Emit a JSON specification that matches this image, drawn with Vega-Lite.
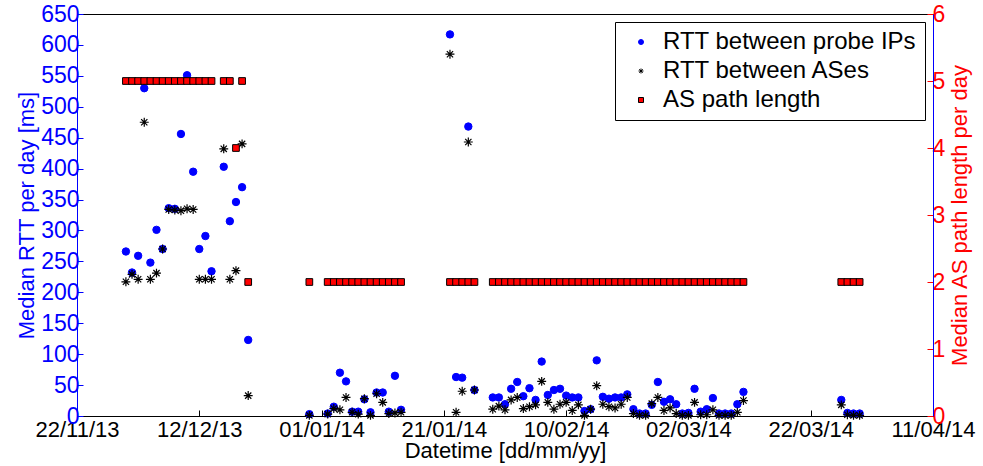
{
  "$schema": "https://vega.github.io/schema/vega-lite/v6.json",
  "width": 856,
  "height": 402,
  "autosize": {"type": "none"},
  "padding": {"left": 77, "top": 14, "right": 50, "bottom": 50},
  "background": "white",
  "config": {
    "font": "Liberation Sans",
    "view": {"stroke": "black", "strokeWidth": 1},
    "axis": {"grid": false, "titleFontWeight": "normal", "labelFontSize": 23, "titleFontSize": 21},
    "legend": {"orient": "top-right", "offset": 8, "strokeColor": "black", "fillColor": "white", "padding": 8, "labelFontSize": 24, "labelLimit": 500, "symbolSize": 25, "rowPadding": 5, "labelOffset": 10, "symbolStrokeWidth": 1, "symbolOffset": 6, "labelColor": "black"}
  },
  "datasets": {
    "rtt": [
      {"d": "2013-11-30", "ip": 266, "as": 217},
      {"d": "2013-12-01", "ip": 232, "as": 229},
      {"d": "2013-12-02", "ip": 259, "as": 221},
      {"d": "2013-12-03", "ip": 530, "as": 475},
      {"d": "2013-12-04", "ip": 248, "as": 221},
      {"d": "2013-12-05", "ip": 301, "as": 231},
      {"d": "2013-12-06", "ip": 270, "as": 270},
      {"d": "2013-12-07", "ip": 336, "as": 334},
      {"d": "2013-12-08", "ip": 335, "as": 333},
      {"d": "2013-12-09", "ip": 456, "as": 332},
      {"d": "2013-12-10", "ip": 551, "as": 335},
      {"d": "2013-12-11", "ip": 395, "as": 334},
      {"d": "2013-12-12", "ip": 270, "as": 221},
      {"d": "2013-12-13", "ip": 291, "as": 221},
      {"d": "2013-12-14", "ip": 234, "as": 221},
      {"d": "2013-12-16", "ip": 403, "as": 432},
      {"d": "2013-12-17", "ip": 315, "as": 221},
      {"d": "2013-12-18", "ip": 346, "as": 235},
      {"d": "2013-12-19", "ip": 370, "as": 440},
      {"d": "2013-12-20", "ip": 123, "as": 33},
      {"d": "2013-12-30", "ip": 3, "as": 1},
      {"d": "2014-01-02", "ip": 4, "as": 3},
      {"d": "2014-01-03", "ip": 15, "as": 12},
      {"d": "2014-01-04", "ip": 70, "as": 10},
      {"d": "2014-01-05", "ip": 56, "as": 30},
      {"d": "2014-01-06", "ip": 7, "as": 6},
      {"d": "2014-01-07", "ip": 7, "as": 3},
      {"d": "2014-01-08", "ip": 27, "as": 28},
      {"d": "2014-01-09", "ip": 6, "as": 1},
      {"d": "2014-01-10", "ip": 38, "as": 36},
      {"d": "2014-01-11", "ip": 38, "as": 22},
      {"d": "2014-01-12", "ip": 7, "as": 4},
      {"d": "2014-01-13", "ip": 65, "as": 5},
      {"d": "2014-01-14", "ip": 10, "as": 6},
      {"d": "2014-01-22", "ip": 617, "as": 585},
      {"d": "2014-01-23", "ip": 63, "as": 6},
      {"d": "2014-01-24", "ip": 62, "as": 40},
      {"d": "2014-01-25", "ip": 468, "as": 443},
      {"d": "2014-01-26", "ip": 42, "as": 42},
      {"d": "2014-01-29", "ip": 30, "as": 11},
      {"d": "2014-01-30", "ip": 30, "as": 16},
      {"d": "2014-01-31", "ip": 19, "as": 10},
      {"d": "2014-02-01", "ip": 44, "as": 26},
      {"d": "2014-02-02", "ip": 55, "as": 30},
      {"d": "2014-02-03", "ip": 32, "as": 12},
      {"d": "2014-02-04", "ip": 45, "as": 15},
      {"d": "2014-02-05", "ip": 26, "as": 18},
      {"d": "2014-02-06", "ip": 88, "as": 56},
      {"d": "2014-02-07", "ip": 34, "as": 22},
      {"d": "2014-02-08", "ip": 42, "as": 11},
      {"d": "2014-02-09", "ip": 44, "as": 19},
      {"d": "2014-02-10", "ip": 33, "as": 22},
      {"d": "2014-02-11", "ip": 30, "as": 9},
      {"d": "2014-02-12", "ip": 30, "as": 18},
      {"d": "2014-02-13", "ip": 8, "as": 1},
      {"d": "2014-02-14", "ip": 11, "as": 11},
      {"d": "2014-02-15", "ip": 90, "as": 49},
      {"d": "2014-02-16", "ip": 31, "as": 19},
      {"d": "2014-02-17", "ip": 28, "as": 15},
      {"d": "2014-02-18", "ip": 30, "as": 13},
      {"d": "2014-02-19", "ip": 30, "as": 19},
      {"d": "2014-02-20", "ip": 35, "as": 30},
      {"d": "2014-02-21", "ip": 11, "as": 4},
      {"d": "2014-02-22", "ip": 4, "as": 1},
      {"d": "2014-02-23", "ip": 4, "as": 1},
      {"d": "2014-02-24", "ip": 18, "as": 20},
      {"d": "2014-02-25", "ip": 55, "as": 30},
      {"d": "2014-02-26", "ip": 23, "as": 9},
      {"d": "2014-02-27", "ip": 27, "as": 13},
      {"d": "2014-02-28", "ip": 19, "as": 4},
      {"d": "2014-03-01", "ip": 4, "as": 1},
      {"d": "2014-03-02", "ip": 5, "as": 1},
      {"d": "2014-03-03", "ip": 44, "as": 22},
      {"d": "2014-03-04", "ip": 7, "as": 2},
      {"d": "2014-03-05", "ip": 11, "as": 2},
      {"d": "2014-03-06", "ip": 29, "as": 10},
      {"d": "2014-03-07", "ip": 4, "as": 1},
      {"d": "2014-03-08", "ip": 4, "as": 1},
      {"d": "2014-03-09", "ip": 4, "as": 1},
      {"d": "2014-03-10", "ip": 19, "as": 6},
      {"d": "2014-03-11", "ip": 39, "as": 25},
      {"d": "2014-03-27", "ip": 26, "as": 18},
      {"d": "2014-03-28", "ip": 5, "as": 2},
      {"d": "2014-03-29", "ip": 4, "as": 1},
      {"d": "2014-03-30", "ip": 4, "as": 1}
    ],
    "path": [
      {"d": "2013-11-30", "len": 5, "series": "path"},
      {"d": "2013-12-01", "len": 5, "series": "path"},
      {"d": "2013-12-02", "len": 5, "series": "path"},
      {"d": "2013-12-03", "len": 5, "series": "path"},
      {"d": "2013-12-04", "len": 5, "series": "path"},
      {"d": "2013-12-05", "len": 5, "series": "path"},
      {"d": "2013-12-06", "len": 5, "series": "path"},
      {"d": "2013-12-07", "len": 5, "series": "path"},
      {"d": "2013-12-08", "len": 5, "series": "path"},
      {"d": "2013-12-09", "len": 5, "series": "path"},
      {"d": "2013-12-10", "len": 5, "series": "path"},
      {"d": "2013-12-11", "len": 5, "series": "path"},
      {"d": "2013-12-12", "len": 5, "series": "path"},
      {"d": "2013-12-13", "len": 5, "series": "path"},
      {"d": "2013-12-14", "len": 5, "series": "path"},
      {"d": "2013-12-16", "len": 5, "series": "path"},
      {"d": "2013-12-17", "len": 5, "series": "path"},
      {"d": "2013-12-18", "len": 4, "series": "path"},
      {"d": "2013-12-19", "len": 5, "series": "path"},
      {"d": "2013-12-20", "len": 2, "series": "path"},
      {"d": "2013-12-30", "len": 2, "series": "path"},
      {"d": "2014-01-02", "len": 2, "series": "path"},
      {"d": "2014-01-03", "len": 2, "series": "path"},
      {"d": "2014-01-04", "len": 2, "series": "path"},
      {"d": "2014-01-05", "len": 2, "series": "path"},
      {"d": "2014-01-06", "len": 2, "series": "path"},
      {"d": "2014-01-07", "len": 2, "series": "path"},
      {"d": "2014-01-08", "len": 2, "series": "path"},
      {"d": "2014-01-09", "len": 2, "series": "path"},
      {"d": "2014-01-10", "len": 2, "series": "path"},
      {"d": "2014-01-11", "len": 2, "series": "path"},
      {"d": "2014-01-12", "len": 2, "series": "path"},
      {"d": "2014-01-13", "len": 2, "series": "path"},
      {"d": "2014-01-14", "len": 2, "series": "path"},
      {"d": "2014-01-22", "len": 2, "series": "path"},
      {"d": "2014-01-23", "len": 2, "series": "path"},
      {"d": "2014-01-24", "len": 2, "series": "path"},
      {"d": "2014-01-25", "len": 2, "series": "path"},
      {"d": "2014-01-26", "len": 2, "series": "path"},
      {"d": "2014-01-29", "len": 2, "series": "path"},
      {"d": "2014-01-30", "len": 2, "series": "path"},
      {"d": "2014-01-31", "len": 2, "series": "path"},
      {"d": "2014-02-01", "len": 2, "series": "path"},
      {"d": "2014-02-02", "len": 2, "series": "path"},
      {"d": "2014-02-03", "len": 2, "series": "path"},
      {"d": "2014-02-04", "len": 2, "series": "path"},
      {"d": "2014-02-05", "len": 2, "series": "path"},
      {"d": "2014-02-06", "len": 2, "series": "path"},
      {"d": "2014-02-07", "len": 2, "series": "path"},
      {"d": "2014-02-08", "len": 2, "series": "path"},
      {"d": "2014-02-09", "len": 2, "series": "path"},
      {"d": "2014-02-10", "len": 2, "series": "path"},
      {"d": "2014-02-11", "len": 2, "series": "path"},
      {"d": "2014-02-12", "len": 2, "series": "path"},
      {"d": "2014-02-13", "len": 2, "series": "path"},
      {"d": "2014-02-14", "len": 2, "series": "path"},
      {"d": "2014-02-15", "len": 2, "series": "path"},
      {"d": "2014-02-16", "len": 2, "series": "path"},
      {"d": "2014-02-17", "len": 2, "series": "path"},
      {"d": "2014-02-18", "len": 2, "series": "path"},
      {"d": "2014-02-19", "len": 2, "series": "path"},
      {"d": "2014-02-20", "len": 2, "series": "path"},
      {"d": "2014-02-21", "len": 2, "series": "path"},
      {"d": "2014-02-22", "len": 2, "series": "path"},
      {"d": "2014-02-23", "len": 2, "series": "path"},
      {"d": "2014-02-24", "len": 2, "series": "path"},
      {"d": "2014-02-25", "len": 2, "series": "path"},
      {"d": "2014-02-26", "len": 2, "series": "path"},
      {"d": "2014-02-27", "len": 2, "series": "path"},
      {"d": "2014-02-28", "len": 2, "series": "path"},
      {"d": "2014-03-01", "len": 2, "series": "path"},
      {"d": "2014-03-02", "len": 2, "series": "path"},
      {"d": "2014-03-03", "len": 2, "series": "path"},
      {"d": "2014-03-04", "len": 2, "series": "path"},
      {"d": "2014-03-05", "len": 2, "series": "path"},
      {"d": "2014-03-06", "len": 2, "series": "path"},
      {"d": "2014-03-07", "len": 2, "series": "path"},
      {"d": "2014-03-08", "len": 2, "series": "path"},
      {"d": "2014-03-09", "len": 2, "series": "path"},
      {"d": "2014-03-10", "len": 2, "series": "path"},
      {"d": "2014-03-11", "len": 2, "series": "path"},
      {"d": "2014-03-27", "len": 2, "series": "path"},
      {"d": "2014-03-28", "len": 2, "series": "path"},
      {"d": "2014-03-29", "len": 2, "series": "path"},
      {"d": "2014-03-30", "len": 2, "series": "path"}
    ]
  },
  "encoding": {
    "x": {
      "field": "d",
      "type": "temporal",
      "scale": {"type": "utc", "domain": [{"year": 2013, "month": 11, "date": 22, "utc": true}, {"year": 2014, "month": 4, "date": 11, "utc": true}]},
      "axis": {
        "values": [
          {"year": 2013, "month": 11, "date": 22, "utc": true},
          {"year": 2013, "month": 12, "date": 12, "utc": true},
          {"year": 2014, "month": 1, "date": 1, "utc": true},
          {"year": 2014, "month": 1, "date": 21, "utc": true},
          {"year": 2014, "month": 2, "date": 10, "utc": true},
          {"year": 2014, "month": 3, "date": 2, "utc": true},
          {"year": 2014, "month": 3, "date": 22, "utc": true},
          {"year": 2014, "month": 4, "date": 11, "utc": true}
        ],
        "labelExpr": "utcFormat(datum.value, '%d/%m/%y')",
        "title": "Datetime [dd/mm/yy]",
        "labelFontSize": 22,
        "titleFontSize": 22,
        "labelColor": "black",
        "titleColor": "black",
        "domainColor": "black",
        "tickColor": "black",
        "tickSize": -6,
        "labelPadding": 9,
        "titlePadding": 0,
        "labelFlush": false,
        "labelOverlap": false
      }
    }
  },
  "layer": [
    {
      "data": {"name": "rtt"},
      "encoding": {
        "y": {
          "field": "v",
          "type": "quantitative",
          "scale": {"domain": [0, 650], "nice": false},
          "axis": {
            "orient": "left",
            "values": [0, 50, 100, 150, 200, 250, 300, 350, 400, 450, 500, 550, 600, 650],
            "title": "Median RTT per day [ms]",
            "titleFontSize": 22,
            "labelColor": "blue",
            "titleColor": "blue",
            "domainColor": "blue",
            "tickColor": "blue",
            "tickSize": -6,
            "labelPadding": 4,
            "titlePadding": 2,
            "labelFlush": false,
            "labelOverlap": false
          }
        }
      },
      "layer": [
        {
          "transform": [{"fold": ["ip"], "as": ["series", "v"]}],
          "mark": {"type": "point", "size": 55, "strokeWidth": 1, "opacity": 1},
          "encoding": {
            "fill": {"field": "series", "type": "nominal", "scale": {"domain": ["ip", "as", "path"], "range": ["blue", "transparent", "red"]}, "legend": {"title": null, "labelExpr": "datum.label == 'ip' ? 'RTT between probe IPs' : datum.label == 'as' ? 'RTT between ASes' : 'AS path length'"}},
            "stroke": {"field": "series", "type": "nominal", "scale": {"domain": ["ip", "as", "path"], "range": ["blue", "black", "black"]}, "legend": {"title": null, "labelExpr": "datum.label == 'ip' ? 'RTT between probe IPs' : datum.label == 'as' ? 'RTT between ASes' : 'AS path length'"}},
            "shape": {"field": "series", "type": "nominal", "scale": {"domain": ["ip", "as", "path"], "range": ["circle", "M-1,0L1,0M0,-1L0,1M-0.7,-0.7L0.7,0.7M-0.7,0.7L0.7,-0.7", "square"]}, "legend": {"title": null, "labelExpr": "datum.label == 'ip' ? 'RTT between probe IPs' : datum.label == 'as' ? 'RTT between ASes' : 'AS path length'"}}
          }
        },
        {
          "transform": [{"fold": ["as"], "as": ["series", "v"]}],
          "mark": {"type": "point", "size": 80, "strokeWidth": 1.2, "opacity": 1},
          "encoding": {
            "fill": {"field": "series", "type": "nominal"},
            "stroke": {"field": "series", "type": "nominal"},
            "shape": {"field": "series", "type": "nominal"}
          }
        }
      ]
    },
    {
      "data": {"name": "path"},
      "mark": {"type": "point", "size": 45, "strokeWidth": 1, "opacity": 1},
      "encoding": {
        "y": {
          "field": "len",
          "type": "quantitative",
          "scale": {"domain": [0, 6], "nice": false},
          "axis": {
            "orient": "right",
            "values": [0, 1, 2, 3, 4, 5, 6],
            "title": "Median AS path length per day",
            "titleFontSize": 22,
            "titleAngle": -90,
            "titleBaseline": "top",
            "labelColor": "red",
            "titleColor": "red",
            "domainColor": "blue",
            "tickColor": "red",
            "tickSize": -6,
            "labelPadding": 5,
            "titlePadding": 5,
            "labelFlush": false,
            "labelOverlap": false
          }
        },
        "fill": {"field": "series", "type": "nominal"},
        "stroke": {"field": "series", "type": "nominal"},
        "shape": {"field": "series", "type": "nominal"}
      }
    }
  ],
  "resolve": {"scale": {"y": "independent"}}
}
